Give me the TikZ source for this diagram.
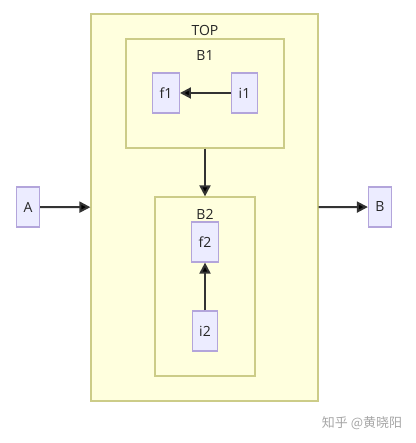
\documentclass[tikz,border=0pt]{standalone}
\usepackage{fontspec}
\setmainfont{Open Sans}
\newfontfamily\cjk{Noto Sans CJK SC}
\usepackage{xcolor}
\usetikzlibrary{arrows.meta,positioning}
\definecolor{nodefill}{HTML}{ECECFF}
\definecolor{nodeline}{HTML}{B3A5DB}
\definecolor{groupfill}{HTML}{FFFFDE}
\definecolor{groupline}{HTML}{CCCC88}
\definecolor{linkcol}{HTML}{333333}

\begin{document}
\begin{tikzpicture}[x=1pt,y=-1pt,->,>={Triangle[length=11pt,width=11pt]},
                    main node/.style={rectangle,draw=nodeline,fill=nodefill,line width=1.2pt,
                      minimum height=40pt,inner xsep=7pt,font=\fontsize{14}{16}\selectfont,text=black!85},
                    group/.style={rectangle,draw=groupline,fill=groupfill,line width=1.2pt,inner sep=0pt},
                    group label/.style={font=\fontsize{14}{16}\selectfont,text=black!85},
                    link/.style={draw=linkcol,line width=2pt}]
  \useasboundingbox (0,0) rectangle (415,443);

  % subgraphs
  \node[group,minimum width=227pt,minimum height=387pt] (top) at (204.5,207.5) {};
  \node[group,minimum width=158pt,minimum height=109pt] (b1) at (205,93.5) {};
  \node[group,minimum width=100pt,minimum height=179pt] (b2) at (205,286.5) {};
  \node[group label] (toplabel) at (205,30) {TOP};
  \node[group label] (b1label) at (205,56) {B1};
  \node[group label] (b2label) at (205,214) {B2};

  % nodes
  \node[main node] (f1) at (166,93) {f1};
  \node[main node] (i1) at (244.5,93) {i1};
  \node[main node] (f2) at (205,242) {f2};
  \node[main node] (i2) at (205,331) {i2};
  \node[main node] (A) at (28,207) {A};
  \node[main node] (B) at (380,207) {B};

  \path[link]
    (i1) edge (f1)
    (i2) edge (f2)
    (b1) edge (b2)
    (A) edge (top)
    (top) edge (B);

  \node[text=black!35,font=\cjk\fontsize{13}{15}\selectfont] (mark) at (362,423) {知乎 @黄晓阳};
\end{tikzpicture}
\end{document}
